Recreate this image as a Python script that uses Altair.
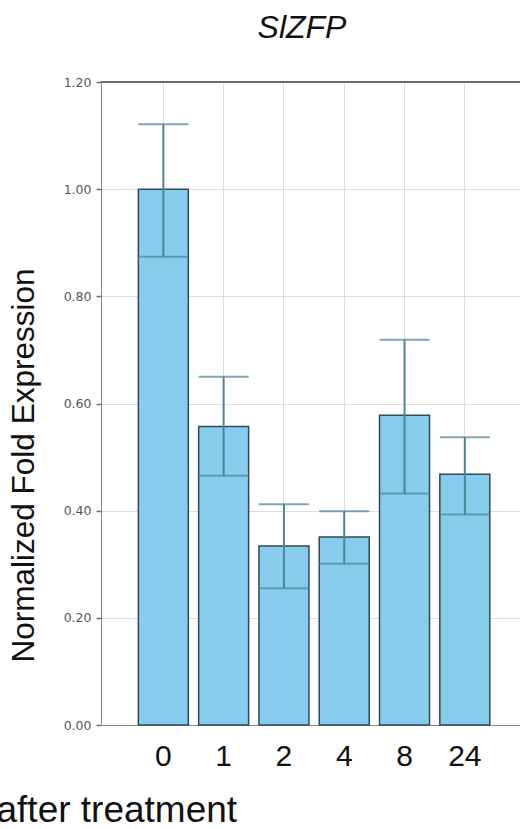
import altair as alt
import pandas as pd

# Relative expression of SlZFP at each sampling time (hours)
hours = ["0", "1", "2", "4", "8", "24"]
fold = [1.00, 0.557, 0.334, 0.351, 0.578, 0.468]
err_low = [0.874, 0.465, 0.255, 0.301, 0.432, 0.393]
err_high = [1.121, 0.650, 0.412, 0.399, 0.719, 0.537]
y_ticks = [0.0, 0.2, 0.4, 0.6, 0.8, 1.0, 1.2]

df = pd.DataFrame({"hours": hours, "fold": fold, "low": err_low, "high": err_high})

AXIS_GRAY = "#6e6e6e"
BAR_FILL = "#87CCEC"
BAR_EDGE = "#2d4a58"
ERR_COLOR = "#4a8496"

x_scale = alt.Scale(paddingInner=0.171, paddingOuter=0.56, align=0.553)
y_scale = alt.Scale(domain=[0, 1.2], nice=False, zero=True)

x_axis = alt.Axis(
    title="after treatment",
    labelAngle=0,
    ticks=False,
    grid=True,
    labelFont="Liberation Sans",
    labelFontSize=30,
    labelColor="#111111",
    labelPadding=16,
    titleFont="Liberation Sans",
    titleFontSize=37,
    titleFontWeight="normal",
    titleColor="#111111",
    titleX=-105,
    titleY=96,
    titleAlign="left",
    titleBaseline="alphabetic",
)

y_axis = alt.Axis(
    title="Normalized Fold Expression",
    values=y_ticks,
    format=".2f",
    grid=True,
    tickSize=5,
    tickWidth=1.5,
    tickColor=AXIS_GRAY,
    labelFont="DejaVu Sans",
    labelFontSize=12.5,
    labelColor="#555555",
    labelPadding=5,
    titleFont="Liberation Sans",
    titleFontSize=31.5,
    titleFontWeight="normal",
    titleColor="#111111",
    titleAngle=270,
    titleX=-68,
    titleY=383,
    titleAlign="center",
    titleBaseline="alphabetic",
)

x_enc = alt.X("hours:N", sort=hours, scale=x_scale, axis=x_axis)

base = alt.Chart(df)

bars = base.mark_bar(fill=BAR_FILL, stroke=BAR_EDGE, strokeWidth=1.5).encode(
    x=x_enc,
    y=alt.Y("fold:Q", scale=y_scale, axis=y_axis),
)

whisker = base.mark_rule(color=ERR_COLOR, strokeWidth=2).encode(
    x=x_enc,
    y=alt.Y("low:Q", scale=y_scale, axis=y_axis),
    y2="high:Q",
)

cap_high = base.mark_tick(color=ERR_COLOR, size=50, thickness=2).encode(
    x=x_enc,
    y=alt.Y("high:Q", scale=y_scale, axis=y_axis),
)

cap_low = base.mark_tick(color=ERR_COLOR, size=50, thickness=2).encode(
    x=x_enc,
    y=alt.Y("low:Q", scale=y_scale, axis=y_axis),
)

# upper frame line of the plot area
top_line = base.mark_rule(color=AXIS_GRAY, strokeWidth=2).encode(
    y=alt.Y(datum=1.2, type="quantitative", scale=y_scale, axis=y_axis),
)

chart = (
    alt.layer(bars, whisker, cap_low, cap_high, top_line)
    .properties(
        width=419,
        height=643,
        autosize=alt.AutoSizeParams(type="none"),
        padding={"left": 101, "top": 82, "right": 0, "bottom": 104},
        title=alt.TitleParams(
            "SlZFP",
            font="Liberation Sans",
            fontSize=32,
            fontStyle="italic",
            fontWeight="normal",
            color="#111111",
            frame="group",
            anchor="middle",
            baseline="alphabetic",
            offset=6,
            dx=-8.5,
        ),
    )
    .configure_view(stroke=None)
    .configure_axis(
        domainColor=AXIS_GRAY,
        domainWidth=2,
        gridColor="#d6d6d6",
        gridWidth=1.5,
    )
    .configure(background="white")
)

chart.save("out.html", embed_options={"renderer": "svg", "actions": False})
